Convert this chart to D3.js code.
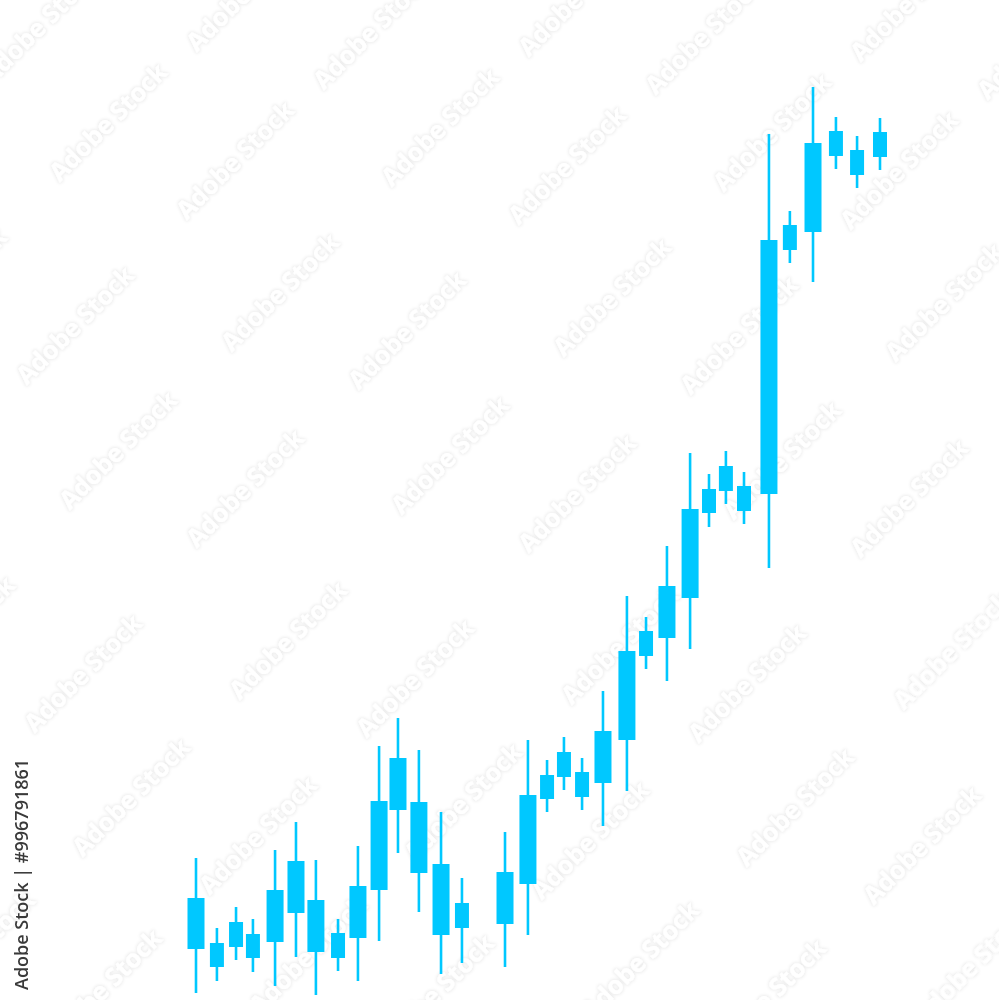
<!DOCTYPE html>
<html lang="en">
<head>
  <meta charset="utf-8">
  <title>Candlestick</title>
  <script src="https://d3js.org/d3.v7.min.js"></script>
  <style>
    body { margin: 0; background: #fff; }
    .wick { stroke: #00c8ff; stroke-width: 2.6; }
    .body { fill: #00c8ff; }
    .mark text { font: 600 18px "Open Sans", sans-serif; fill: #3a3a3a; }
    .wm text { font: 700 25px "Open Sans", sans-serif; fill: #fff; }
  </style>
</head>
<body>
<div id="chart"></div>
<script>
  // session position (there is one empty session between 13.2 and 15.4)
  var times = [0, 1.04, 1.99, 2.83, 3.93, 4.97, 5.96, 7.06, 8.05, 9.1, 10.04, 11.08, 12.18, 13.22,
    15.36, 16.5, 17.45, 18.29, 19.19, 20.23, 21.42, 22.37, 23.41, 24.56, 25.5, 26.34, 27.24,
    28.48, 29.52, 30.67, 31.81, 32.86, 34];
  var open = [5.1, 5.7, 5.3, 6.6, 5.8, 8.7, 10.0, 6.7, 6.2, 11.0, 19.0, 19.8, 13.6, 9.7,
    7.6, 11.6, 20.1, 22.3, 22.8, 21.7, 26.0, 34.4, 36.2, 40.2, 48.7, 50.9, 51.4,
    50.6, 75.0, 76.8, 84.4, 85.0, 84.3];
  var close = [10.2, 3.3, 7.8, 4.2, 11.0, 13.9, 4.8, 4.2, 11.4, 19.9, 24.2, 12.7, 6.5, 7.2,
    12.8, 20.5, 22.5, 24.8, 20.3, 26.9, 34.9, 36.9, 41.4, 49.1, 51.1, 53.4, 48.9,
    76.0, 77.5, 85.7, 86.9, 82.5, 86.8];
  var high = [14.2, 7.2, 9.3, 8.1, 15.0, 17.8, 14.0, 8.1, 15.4, 25.4, 28.2, 25.0, 18.8, 12.2,
    16.8, 26.0, 24.0, 26.3, 24.2, 30.9, 40.4, 38.3, 45.4, 54.7, 52.6, 54.9, 52.8,
    86.6, 78.9, 91.3, 88.3, 86.4, 88.2];
  var low = [0.7, 1.9, 4.0, 2.8, 1.4, 4.3, 0.5, 2.9, 1.9, 5.9, 14.7, 8.8, 2.6, 3.7,
    3.3, 6.5, 18.8, 21.0, 19.0, 17.4, 20.9, 33.1, 31.9, 35.1, 47.3, 49.6, 47.6,
    43.2, 73.7, 71.8, 83.1, 81.2, 83.0];

  var W = 999, H = 1000;
  var data = times.map(function (t, i) {
    return { t: t, o: open[i], c: close[i], h: high[i], l: low[i] };
  });

  var x = d3.scaleLinear().domain([0, 34]).range([196, 880]);
  var y = d3.scaleLinear().domain([0, 100]).range([1000, 0]);

  var svg = d3.select('#chart').append('svg')
    .attr('width', W).attr('height', H);

  // soft grey halo for the watermark
  var f = svg.append('defs').append('filter').attr('id', 'halo')
    .attr('x', '-20%').attr('y', '-50%').attr('width', '140%').attr('height', '200%');
  f.append('feMorphology').attr('in', 'SourceAlpha').attr('operator', 'dilate').attr('radius', 1).attr('result', 'd');
  f.append('feGaussianBlur').attr('in', 'd').attr('stdDeviation', 1.8).attr('result', 'b');
  f.append('feFlood').attr('flood-color', '#000').attr('flood-opacity', 0.07);
  f.append('feComposite').attr('in2', 'b').attr('operator', 'in').attr('result', 's');
  var m = f.append('feMerge');
  m.append('feMergeNode').attr('in', 's');
  m.append('feMergeNode').attr('in', 'SourceGraphic');

  // watermark rows: tiles alternate two steps along each row
  var steps = [[127, 38], [205, -33]];
  var rows = [[40, 25, 1], [108, 122, 0], [75, 325, 1], [118, 450, 0], [83, 673, 1], [131, 797, 0], [103, 988, 1]];
  var spots = [];
  rows.forEach(function (r) {
    var k = r[2], px = r[0], py = r[1];
    var back = steps[(k + 1) % 2];
    spots.push([px - back[0], py - back[1]]);
    while (px < W + 80) {
      spots.push([px, py]);
      px += steps[k][0]; py += steps[k][1];
      k = (k + 1) % 2;
    }
  });
  svg.append('g').attr('class', 'wm').attr('filter', 'url(#halo)')
    .selectAll('text').data(spots).enter().append('text')
    .attr('text-anchor', 'middle')
    .attr('dy', '0.35em')
    .attr('transform', function (d) { return 'translate(' + d[0] + ',' + d[1] + ') rotate(-45)'; })
    .text('Adobe Stock');

  var g = svg.append('g');

  g.selectAll('line.wick').data(data).enter().append('line')
    .attr('class', 'wick')
    .attr('x1', d => x(d.t)).attr('x2', d => x(d.t))
    .attr('y1', d => y(d.h)).attr('y2', d => y(d.l));

  g.selectAll('rect.body').data(data).enter().append('rect')
    .attr('class', 'body')
    .attr('width', d => Math.abs(d.c - d.o) < 4 ? 14 : 17)
    .attr('x', d => x(d.t) - (Math.abs(d.c - d.o) < 4 ? 7 : 8.5))
    .attr('y', d => y(Math.max(d.o, d.c)))
    .attr('height', d => Math.abs(y(d.o) - y(d.c)));

  svg.append('g').attr('class', 'mark')
    .append('text')
    .attr('transform', 'translate(28,990) rotate(-90)')
    .text('Adobe Stock | #996791861');
</script>
</body>
</html>
